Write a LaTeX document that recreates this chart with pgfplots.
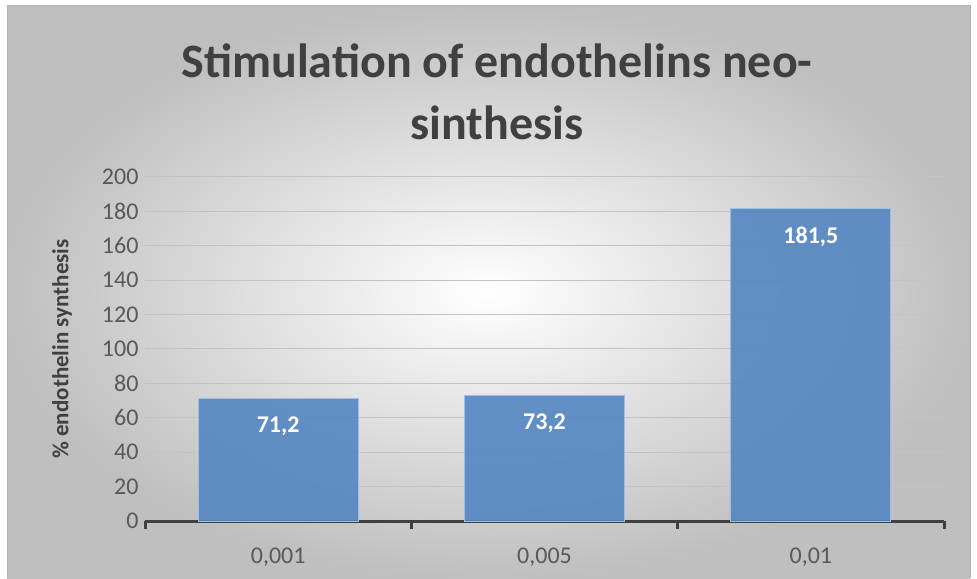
\documentclass[border=0pt]{standalone}
\usepackage{pgfplots}
\pgfplotsset{compat=1.18}
\usepackage{fontspec}
\setmainfont{Carlito}
\definecolor{barblue}{RGB}{84,134,194}
\definecolor{baredge}{RGB}{160,190,225}
\definecolor{titlegray}{RGB}{64,64,64}
\definecolor{tickgray}{RGB}{89,89,89}
\definecolor{gridgray}{RGB}{195,195,195}
\definecolor{axisgray}{RGB}{64,64,64}
\begin{document}
\begin{tikzpicture}[x=1pt,y=1pt]
\fill[white] (0,0) rectangle (977,578);
\shade[inner color=white, outer color=black!25] (7,0) rectangle (970,572);
\draw[black!30, line width=1pt] (7,0) -- (7,572) -- (970,572) -- (970,0);
\node[font=\fontsize{48}{62}\selectfont\bfseries, text=titlegray, align=center] at (497,486) {Stimulation of endothelins neo-\\sinthesis};
\begin{axis}[
  at={(145pt,57pt)}, anchor=south west,
  scale only axis, width=799pt, height=344pt,
  xmin=0, xmax=3, ymin=0, ymax=200,
  ytick={0,20,...,200},
  xtick={0.5,1.5,2.5},
  xticklabels={{0,001},{0,005},{0,01}},
  major tick length=0pt,
  axis x line*=bottom, axis y line*=left,
  y axis line style={draw=none},
  x axis line style={draw=axisgray, line width=3pt, -},
  tick style={draw=none},
  ymajorgrids, grid style={draw=gridgray, line width=1pt},
  /pgf/number format/assume math mode=true,
  ticklabel style={font=\fontsize{24}{28}\selectfont, text=tickgray},
  yticklabel style={xshift=-3pt},
  xticklabel style={yshift=-23pt},
  ylabel={\% endothelin synthesis},
  ylabel style={font=\fontsize{23}{27}\selectfont\bfseries, text=titlegray, at={(-83pt,0.5)}, anchor=center},
  clip=false,
]
\addplot[ybar, bar width=160pt, fill=barblue, fill opacity=0.9, draw=baredge, line width=0.8pt,
  nodes near coords,
  nodes near coords style={font=\fontsize{24}{28}\selectfont\bfseries, text=white, text opacity=1, anchor=center, yshift=-28pt,
    /pgf/number format/.cd, use comma, fixed, precision=1, fixed zerofill, assume math mode=true},
] coordinates {(0.5,71.2) (1.5,73.2) (2.5,181.5)};
\pgfplotsinvokeforeach{0,1,2,3}{
  \draw[axisgray, line width=3pt] (axis cs:#1,0) -- ([yshift=-8pt]axis cs:#1,0);
}
\end{axis}
\end{tikzpicture}
\end{document}
